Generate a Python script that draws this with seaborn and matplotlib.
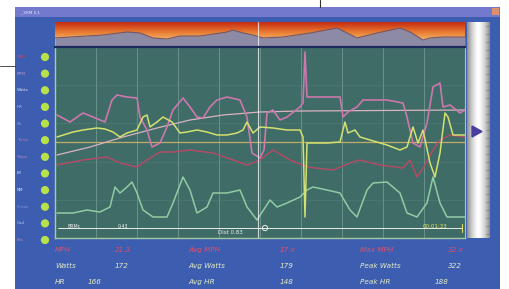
import numpy as np
import pandas as pd
import matplotlib
matplotlib.use("Agg")
import matplotlib.pyplot as plt
import seaborn as sns
from matplotlib.patches import Rectangle, Polygon, Circle
from matplotlib.colors import LinearSegmentedColormap

sns.set_theme(style="white")
plt.rcParams['font.family'] = ['DejaVu Sans']

W, H = 510, 289

# ---------------- data ----------------
# elevation profile
elev_t = [0, 48, 72, 85, 98, 112, 125, 145, 172, 178, 188, 198, 208, 228, 255, 282, 302, 322, 345, 355, 368, 375, 388, 410]
elev_v = [8, 11, 14, 13, 8, 7, 10, 10, 14, 16, 13, 11, 8, 9, 13, 18, 8, 13, 18, 14, 6, 8, 9, 9]

# speed (pink)
spd_t = [2, 15, 28, 38, 50, 57, 62, 72, 82, 85, 92, 97, 105, 112, 118, 128, 135, 142, 148, 155, 162, 172, 185, 192,
         197, 205, 209, 212, 218, 225, 232, 245, 248, 250, 252, 272, 285, 288, 293, 302, 308, 332, 348, 352, 358, 365,
         372, 378, 385, 388, 395, 405, 410]
spd_v = [123, 116, 125, 121, 116, 138, 143, 141, 140, 121, 108, 91, 95, 111, 128, 140, 131, 121, 120, 131, 138, 141, 138, 121,
         85, 80, 88, 125, 128, 118, 121, 131, 135, 186, 141, 141, 141, 121, 126, 131, 138, 138, 135, 121, 95, 91,
         115, 151, 155, 131, 133, 125, 128]

# power (yellow-green)
pwr_t = [2, 18, 28, 42, 50, 58, 65, 72, 82, 88, 92, 95, 102, 108, 117, 125, 132, 142, 152, 162, 172, 182, 188, 192, 198, 205,
         218, 232, 245, 248, 250, 252, 272, 285, 290, 293, 300, 305, 315, 332, 345, 352, 358, 363, 368, 375, 380, 385, 390,
         393, 398, 410]
pwr_v = [101, 106, 108, 110, 109, 106, 101, 105, 108, 121, 123, 111, 116, 121, 116, 105, 106, 108, 106, 103, 103, 105, 108,
         116, 105, 111, 110, 108, 108, 101, 21, 95, 95, 96, 116, 105, 108, 101, 98, 93, 88, 91, 111, 95, 108, 75, 61, 85,
         125, 121, 103, 103]

# cadence (light green)
cad_t = [2, 18, 32, 45, 55, 60, 65, 72, 77, 82, 88, 98, 112, 118, 128, 135, 142, 152, 158, 172, 185, 192, 202, 215, 222,
         232, 245, 252, 258, 272, 285, 295, 302, 312, 318, 332, 345, 352, 362, 372, 378, 385, 392, 410]
cad_v = [25, 25, 28, 26, 31, 51, 45, 51, 56, 45, 28, 21, 21, 35, 61, 48, 25, 31, 45, 45, 48, 31, 18, 38, 31, 35, 41, 48, 51,
         48, 45, 28, 21, 48, 55, 56, 45, 25, 21, 35, 61, 35, 21, 21]

# heart rate (dark red)
hr_t = [2, 28, 52, 65, 82, 92, 105, 118, 135, 158, 178, 192, 205, 218, 235, 252, 278, 295, 305, 325, 348, 355, 362, 370,
        378, 385, 395, 410]
hr_v = [73, 78, 81, 75, 71, 78, 86, 86, 88, 85, 78, 73, 78, 88, 78, 71, 68, 75, 78, 73, 70, 78, 61, 73, 88, 98, 103, 101]

# smooth trend (pale pink)
trd_t = [2, 35, 68, 102, 135, 168, 205, 245, 410]
trd_v = [83, 91, 101, 110, 118, 123, 126, 127, 128]

ref_level = 96
cursor_t = 203

row_labels = ["MPH", "RPM", "Watts", "HR", "Alt", "Temp", "Slope", "LR", "NM", "Grade", "Cad", "Pos"]
row_colors = ["#d84858", "#d8a0c8", "#ffffff", "#e8c8e8", "#8c98cc", "#d878a8", "#c888c8", "#ffffff",
              "#ffffff", "#8c98d8", "#c8d0e8", "#d888a8"]

stats = [
    [("MPH", "21.3"), ("Avg MPH", "17.x"), ("Max MPH", "32.x")],
    [("Watts", "172"), ("Avg Watts", "179"), ("Peak Watts", "322")],
    [("HR", "166"), ("Avg HR", "148"), ("Peak HR", "188")],
]

# ---------------- figure ----------------
fig = plt.figure(figsize=(W / 100, H / 100), dpi=100, facecolor="white")


def px_axes(x0, y0, x1, y1, **kw):
    return fig.add_axes([x0 / W, 1 - y1 / H, (x1 - x0) / W, (y1 - y0) / H], **kw)


bg = px_axes(0, 0, W, H)
bg.set_xlim(0, W)
bg.set_ylim(H, 0)
bg.axis("off")
bg.set_zorder(0)

# window frame
bg.add_patch(Rectangle((15, 7), 485, 282, color="#3c5db0", lw=0))
bg.add_patch(Rectangle((15, 7), 485, 10, color="#7379cc", lw=0))
bg.add_patch(Rectangle((492, 8), 7, 7, color="#e0906a", lw=0))
bg.text(20, 12, "_ SRM 5.1", fontsize=3, color="#e8e8ff", va="center")

# leader lines
bg.plot([0, 15], [66, 66], color="#303030", lw=0.6)
bg.plot([320, 320], [0, 7], color="#303030", lw=0.8)

# right gray panel with horizontal gradient
grad = np.abs(np.linspace(-1, 1, 60))
gimg = np.tile(1 - 0.45 * grad ** 1.5, (10, 1))
bg.imshow(gimg, cmap="gray", vmin=0, vmax=1, extent=(467, 490, 238, 22), aspect="auto", zorder=2)
for yy in np.arange(26, 236, 8):
    bg.plot([486, 489], [yy, yy], color="#707070", lw=0.4, zorder=3)
bg.add_patch(Polygon([[472, 126], [472, 137], [482, 131.5]], closed=True, color="#4a3ca0", zorder=3))

# left status labels and dots
row_y = np.linspace(57, 240, len(row_labels))
for lab, col, yy in zip(row_labels, row_colors, row_y):
    bg.text(17, yy, lab, fontsize=3, color=col, va="center", ha="left", alpha=0.85)
    bg.add_patch(Circle((45, yy), 3.4, color="#b8e24a", zorder=3))

# statistics text
col_x = [(55, 115), (188, 280), (360, 448)]
row_sy = [250, 266, 282]
for r, row in enumerate(stats):
    color = "#e0506a" if r == 0 else "#e4ecc4"
    for c, (name, val) in enumerate(row):
        vx = col_x[c][1]
        if r == 2 and c == 0:
            vx = 88
        if r == 2 and c == 2:
            vx = 435
        bg.text(col_x[c][0], row_sy[r], name, fontsize=5.2, color=color, style="italic", va="center")
        bg.text(vx, row_sy[r], val, fontsize=5.2, color=color, style="italic", va="center")

# ---------------- elevation panel ----------------
ax_e = px_axes(55, 22, 465, 46)
ax_e.set_zorder(1)
cmap_e = LinearSegmentedColormap.from_list("e", ["#c42c14", "#dc5a24", "#ec8a3c", "#f4b070", "#f0c890"])
ax_e.imshow(np.linspace(0, 1, 50).reshape(-1, 1), cmap=cmap_e, extent=(0, 410, 0, 24), aspect="auto", origin="upper")
elev_df = pd.DataFrame({"t": elev_t, "v": elev_v})
ax_e.fill_between(elev_df["t"], elev_df["v"], 0, color="#8c8aa4", lw=0)
sns.lineplot(data=elev_df, x="t", y="v", ax=ax_e, color="#6a5a70", lw=0.8)
ax_e.axvline(cursor_t, color="#f0f0f0", lw=0.8, alpha=0.8)
ax_e.set_xlim(0, 410)
ax_e.set_ylim(0, 24)
ax_e.axis("off")

# ---------------- main chart ----------------
ax = px_axes(55, 47, 465, 238)
ax.set_zorder(1)
ax.set_facecolor("#3f6c67")
ax.set_xlim(0, 410)
ax.set_ylim(0, 191)
ax.set_xticks(np.linspace(0, 410, 11))
ax.set_yticks(np.linspace(0, 191, 6))
ax.grid(True, axis="x", color="#78a49c", lw=0.6, alpha=0.8)
ax.grid(True, axis="y", color="#5e8a84", lw=0.4, alpha=0.6)
ax.tick_params(length=0, labelbottom=False, labelleft=False)
ax.set_xlabel("")
ax.set_ylabel("")
for side, col, lw in [("left", "#a4d0a0", 1.0), ("bottom", "#a4c8a4", 1.0), ("right", "#a4c8b0", 0.8), ("top", "#1c2c5c", 1.6)]:
    ax.spines[side].set_color(col)
    ax.spines[side].set_linewidth(lw)

ax.axhline(ref_level, color="#d0b468", lw=0.9, alpha=0.9)
series = [
    (trd_t, trd_v, "#d8b4c0", 0.9),
    (hr_t, hr_v, "#b04c66", 1.1),
    (cad_t, cad_v, "#90cca4", 1.1),
    (spd_t, spd_v, "#cc78ac", 1.2),
    (pwr_t, pwr_v, "#d4e070", 1.1),
]
for t, v, col, lw in series:
    df = pd.DataFrame({"t": t, "v": v})
    sns.lineplot(data=df, x="t", y="v", ax=ax, color=col, lw=lw, sort=False, estimator=None)
ax.set_xlabel("")
ax.set_ylabel("")

ax.axvline(cursor_t, color="#f4f4f4", lw=0.8, alpha=0.8)
# scrubber bar
ax.plot([3, 407], [10, 10], color="#e8f0e8", lw=0.7)
ax.scatter([210], [10], s=14, facecolors="none", edgecolors="#e8f0e8", linewidths=0.7, zorder=5)
ax.plot([407, 407], [6, 14], color="#e0e060", lw=0.8)
ax.text(12, 11, "BRMc", fontsize=3.4, color="#f0f0f0", va="center")
ax.text(63, 11, "0.43", fontsize=3.4, color="#f0f0f0", va="center")
ax.text(163, 6, "Dist 0.83", fontsize=4, color="#f0f0f0", va="center")
ax.text(368, 11, "00:01:33", fontsize=4, color="#e4e460", va="center")

fig.savefig("out.png", dpi=100, facecolor="white")
